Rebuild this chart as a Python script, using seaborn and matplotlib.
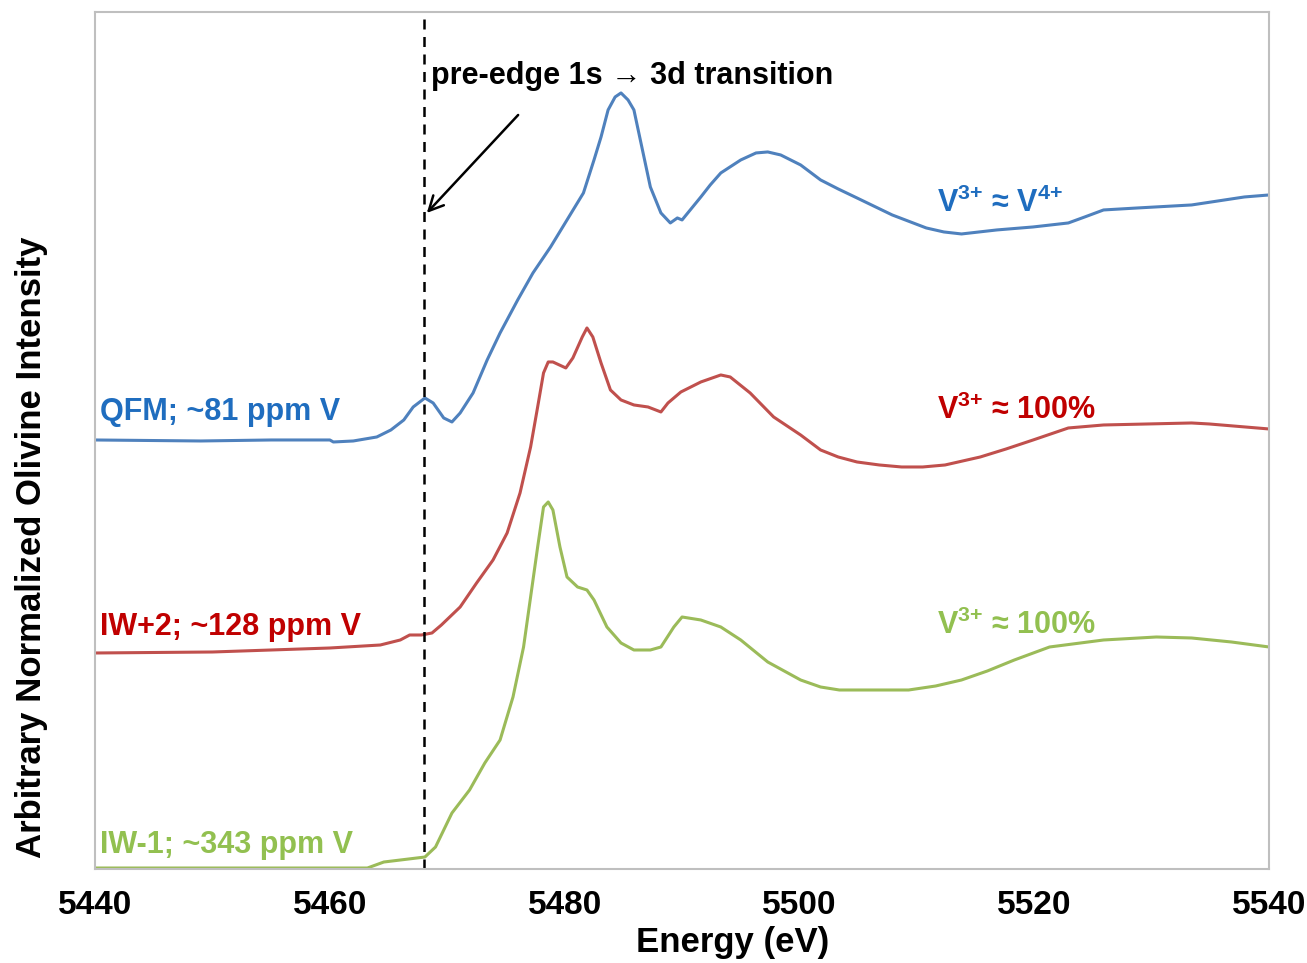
import numpy as np
import pandas as pd
import matplotlib
matplotlib.use("Agg")
import matplotlib.pyplot as plt
import seaborn as sns

# V K-edge XANES of olivine (stacked with offsets)
qfm_energy = [5440.0, 5449.0, 5455.0, 5460.0, 5460.3, 5462.0, 5464.0, 5465.2, 5466.3,
              5467.1, 5468.1, 5468.8, 5469.7, 5470.4, 5471.1, 5472.2, 5473.4, 5474.5,
              5476.0, 5477.3, 5478.8, 5480.2, 5481.6, 5482.5, 5483.1, 5483.7, 5484.3,
              5484.8, 5485.4, 5485.9, 5486.5, 5487.3, 5488.2, 5489.0, 5489.6, 5490.0,
              5491.6, 5492.4, 5493.3, 5495.0, 5496.3, 5497.3, 5498.4, 5500.1, 5501.8,
              5503.3, 5504.9, 5507.9, 5510.8, 5512.3, 5513.8, 5516.8, 5519.9, 5522.9,
              5524.3, 5525.9, 5528.8, 5533.4, 5537.9, 5540.0]
qfm_int = [4.29, 4.28, 4.29, 4.29, 4.27, 4.28, 4.32, 4.39, 4.49,
           4.62, 4.71, 4.66, 4.51, 4.47, 4.56, 4.76, 5.09, 5.36,
           5.69, 5.96, 6.22, 6.49, 6.76, 7.09, 7.32, 7.59, 7.72,
           7.76, 7.69, 7.59, 7.26, 6.82, 6.56, 6.46, 6.51, 6.49,
           6.72, 6.84, 6.96, 7.09, 7.16, 7.17, 7.14, 7.04, 6.89,
           6.80, 6.71, 6.54, 6.41, 6.37, 6.35, 6.39, 6.42, 6.46,
           6.52, 6.59, 6.61, 6.64, 6.72, 6.74]

iw2_energy = [5440.0, 5450.0, 5460.0, 5464.3, 5466.0, 5466.8, 5467.8, 5468.7, 5469.5,
              5471.1, 5472.5, 5473.9, 5475.1, 5476.2, 5477.1, 5477.7, 5478.2, 5478.6,
              5479.0, 5480.1, 5480.7, 5481.5, 5481.9, 5482.4, 5483.1, 5483.9, 5484.8,
              5485.9, 5487.1, 5488.2, 5488.8, 5489.9, 5491.6, 5493.3, 5494.1, 5495.8,
              5497.8, 5500.1, 5501.8, 5503.3, 5504.9, 5506.8, 5508.7, 5510.5, 5512.4,
              5515.4, 5517.6, 5519.9, 5522.9, 5525.9, 5533.4, 5534.9, 5540.0]
iw2_int = [2.16, 2.17, 2.21, 2.24, 2.29, 2.34, 2.34, 2.36, 2.44,
           2.62, 2.86, 3.09, 3.36, 3.76, 4.22, 4.62, 4.96, 5.07,
           5.07, 5.01, 5.11, 5.32, 5.41, 5.32, 5.06, 4.79, 4.69,
           4.64, 4.62, 4.57, 4.66, 4.77, 4.87, 4.94, 4.92, 4.76,
           4.52, 4.34, 4.19, 4.12, 4.07, 4.04, 4.02, 4.02, 4.04,
           4.12, 4.20, 4.29, 4.41, 4.44, 4.46, 4.45, 4.40]

iw1_energy = [5440.0, 5460.0, 5463.2, 5464.6, 5467.4, 5468.1, 5469.0, 5470.4, 5471.9,
              5473.2, 5474.5, 5475.6, 5476.5, 5477.1, 5477.7, 5478.2, 5478.6, 5479.0,
              5479.6, 5480.2, 5481.1, 5481.9, 5482.5, 5483.6, 5484.8, 5485.9, 5487.3,
              5488.2, 5489.3, 5490.0, 5491.6, 5493.3, 5495.0, 5497.3, 5500.1, 5501.8,
              5503.4, 5509.3, 5511.6, 5513.8, 5516.0, 5518.3, 5521.3, 5525.9, 5530.4,
              5533.4, 5536.8, 5540.0]
iw1_int = [0.01, 0.01, 0.01, 0.07, 0.11, 0.12, 0.22, 0.56, 0.79,
           1.06, 1.29, 1.72, 2.22, 2.72, 3.22, 3.62, 3.67, 3.59,
           3.22, 2.92, 2.82, 2.79, 2.69, 2.42, 2.26, 2.19, 2.19,
           2.22, 2.42, 2.52, 2.49, 2.42, 2.29, 2.07, 1.89, 1.82,
           1.79, 1.79, 1.83, 1.89, 1.98, 2.09, 2.22, 2.29, 2.32,
           2.31, 2.27, 2.22]

samples = ["QFM", "IW+2", "IW-1"]
sample_labels = ["QFM; ~81 ppm V", "IW+2; ~128 ppm V", "IW-1; ~343 ppm V"]
state_labels = [r"V$^{\mathbf{3{+}}}$ ≈ V$^{\mathbf{4{+}}}$",
                r"V$^{\mathbf{3{+}}}$ ≈ 100%",
                r"V$^{\mathbf{3{+}}}$ ≈ 100%"]
line_colors = ["#4F81BD", "#C0504D", "#9BBB59"]
text_colors = ["#1F6DBF", "#C00000", "#92C050"]
pre_edge_energy = 5468.0
x_ticks = [5440, 5460, 5480, 5500, 5520, 5540]

df = pd.concat([
    pd.DataFrame({"energy": qfm_energy, "intensity": qfm_int, "sample": "QFM"}),
    pd.DataFrame({"energy": iw2_energy, "intensity": iw2_int, "sample": "IW+2"}),
    pd.DataFrame({"energy": iw1_energy, "intensity": iw1_int, "sample": "IW-1"}),
])

sns.set_style("white")
plt.rcParams["font.family"] = ["Liberation Sans", "DejaVu Sans"]
plt.rcParams["font.weight"] = "bold"
plt.rcParams["text.color"] = "black"
plt.rcParams["axes.labelcolor"] = "black"
plt.rcParams["mathtext.fontset"] = "custom"
plt.rcParams["mathtext.rm"] = "Liberation Sans"
plt.rcParams["mathtext.bf"] = "Liberation Sans:bold"

fig = plt.figure(figsize=(13.07, 9.63), dpi=100)
ax = fig.add_axes([0.0727, 0.0976, 0.8983, 0.89])

sns.lineplot(data=df, x="energy", y="intensity", hue="sample", hue_order=samples,
             palette=line_colors, estimator=None, linewidth=2.2, legend=False, ax=ax)

ax.axvline(pre_edge_energy, color="black", linestyle=(0, (4, 3)), linewidth=1.8)

ax.set_xlim(5440, 5540)
ax.set_ylim(0, 8.57)
ax.set_xticks(x_ticks)
ax.set_xticklabels([str(t) for t in x_ticks], fontsize=24, fontweight="bold")
ax.set_yticks([])
ax.tick_params(axis="x", direction="in", length=6, width=1, color="#BFBFBF",
               labelcolor="black", pad=15)
for sp in ax.spines.values():
    sp.set_color("#BFBFBF")
    sp.set_linewidth(1.5)

ax.set_xlabel("Energy (eV)", fontsize=25, fontweight="bold")
ax.xaxis.set_label_coords(0.543, -0.066)
ax.set_ylabel("Arbitrary Normalized Olivine Intensity", fontsize=25, fontweight="bold")
ax.yaxis.set_label_coords(-0.040, 0.376)

ax.annotate("", xy=(5468.1, 6.54), xytext=(5476.2, 7.56),
            arrowprops=dict(arrowstyle="->", color="black", lw=1.8, mutation_scale=26))
ax.text(5468.6, 7.93, "pre-edge 1s → 3d transition", fontsize=22, fontweight="bold",
        color="black", va="center", ha="left")

label_y = [4.57, 2.42, 0.24]
state_y = [6.66, 4.59, 2.44]
for i in range(3):
    ax.text(5440.45, label_y[i], sample_labels[i], fontsize=22, fontweight="bold",
            color=text_colors[i], va="center", ha="left")
    ax.text(5511.7, state_y[i], state_labels[i], fontsize=22, fontweight="bold",
            color=text_colors[i], va="center", ha="left")

fig.savefig("out.png", dpi=100)
